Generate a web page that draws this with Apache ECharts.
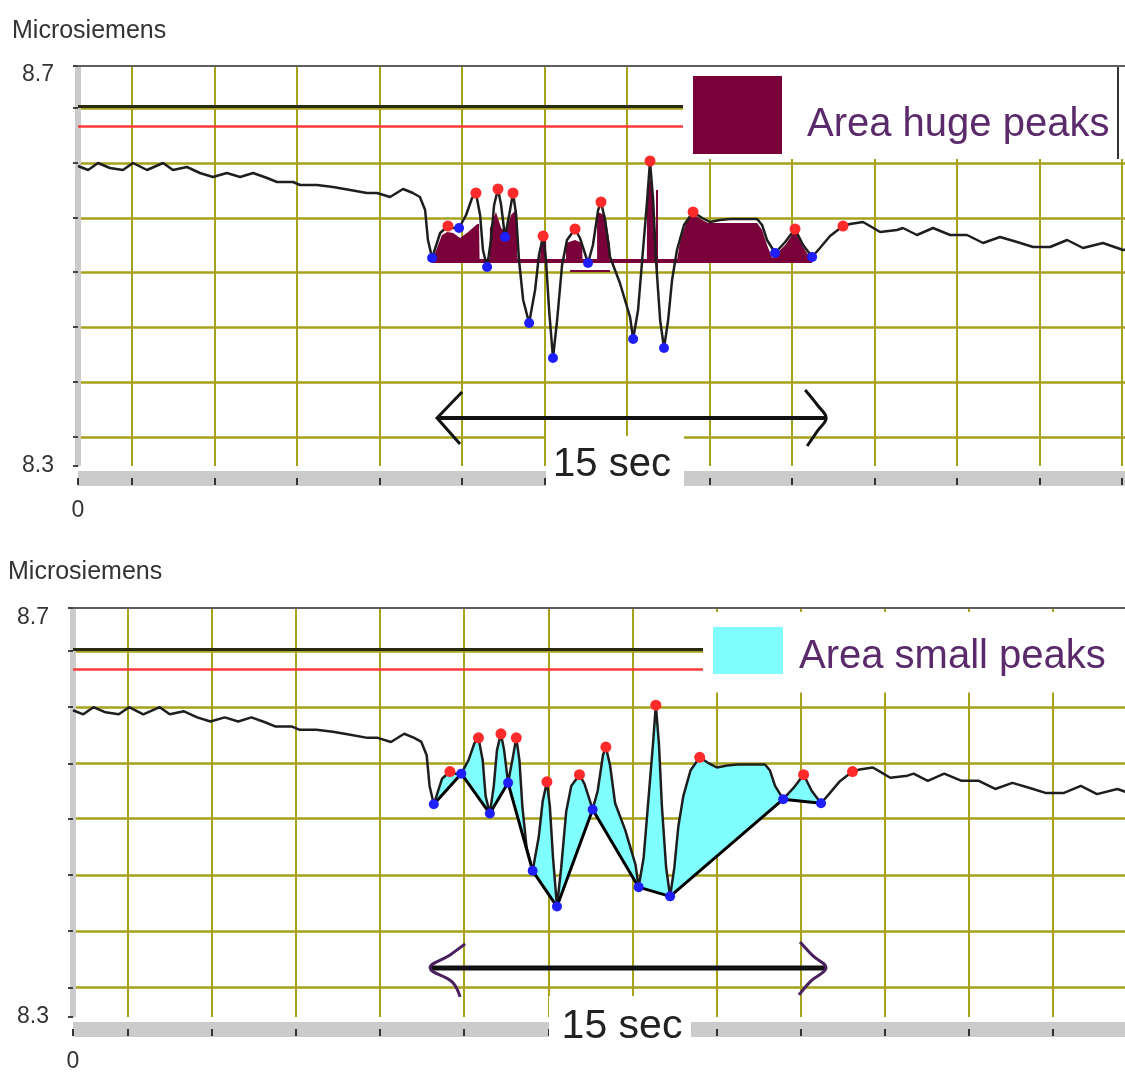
<!DOCTYPE html>
<html>
<head>
<meta charset="utf-8">
<title>Microsiemens - huge and small peaks</title>
<script src="https://cdn.jsdelivr.net/npm/echarts@6/dist/echarts.min.js"></script>
<style>
  html, body { margin: 0; padding: 0; background: #fff; }
  #chart { width: 1125px; height: 1073px; }
</style>
</head>
<body>
<div id="chart"></div>
<script>
// skin conductance trace, [seconds, microsiemens]
const trace = [
  [0,8.600],[0.39,8.596],[0.77,8.603],[1.23,8.598],[1.73,8.596],[2.12,8.603],[2.66,8.596],[3.28,8.603],
  [3.66,8.596],[4.20,8.599],[4.70,8.593],[5.20,8.589],[5.74,8.593],[6.25,8.589],[6.75,8.593],[7.29,8.588],
  [7.67,8.584],[8.29,8.584],[8.56,8.581],[9.21,8.581],[9.83,8.579],[10.49,8.576],[11.14,8.573],[11.53,8.573],
  [12.03,8.569],[12.53,8.577],[12.91,8.573],[13.18,8.569],[13.38,8.556],[13.49,8.526],[13.65,8.508],
  [13.96,8.533],[14.26,8.540],[14.46,8.538],[14.69,8.538],[14.96,8.551],[15.19,8.568],[15.34,8.573],
  [15.50,8.551],[15.61,8.516],[15.77,8.499],[15.92,8.526],[16.04,8.561],[16.19,8.577],[16.31,8.561],
  [16.46,8.529],[16.62,8.551],[16.77,8.573],[16.89,8.551],[17.00,8.506],[17.16,8.466],[17.39,8.443],
  [17.62,8.476],[17.77,8.511],[17.93,8.530],[18.04,8.506],[18.16,8.456],[18.31,8.408],[18.47,8.446],
  [18.66,8.501],[18.85,8.526],[19.16,8.537],[19.35,8.528],[19.66,8.503],[19.85,8.521],[20.05,8.556],
  [20.16,8.564],[20.32,8.546],[20.51,8.509],[20.89,8.483],[21.28,8.449],[21.40,8.427],[21.59,8.456],
  [21.78,8.516],[21.94,8.566],[22.05,8.605],[22.17,8.566],[22.28,8.506],[22.44,8.446],[22.59,8.418],
  [22.75,8.446],[22.90,8.486],[23.09,8.516],[23.36,8.541],[23.71,8.554],[24.06,8.548],[24.36,8.544],
  [24.75,8.546],[25.14,8.547],[26.18,8.547],[26.37,8.541],[26.56,8.526],[26.87,8.513],[27.26,8.524],
  [27.64,8.537],[27.95,8.521],[28.30,8.509],[28.60,8.518],[28.99,8.530],[29.49,8.540],[29.76,8.542],
  [30.26,8.544],[30.53,8.540],[30.92,8.534],[31.57,8.536],[31.80,8.538],[32.34,8.531],[32.96,8.538],
  [33.62,8.531],[34.27,8.531],[34.89,8.523],[35.54,8.529],[36.20,8.524],[36.82,8.519],[37.47,8.519],
  [38.13,8.526],[38.74,8.518],[39.51,8.523],[40.29,8.516],[40.94,8.518],[41.50,8.517]
];
// detected maxima (red) and minima (blue)
const peaks = [
  [14.26,8.540],[15.34,8.573],[16.19,8.577],[16.77,8.573],[17.93,8.530],[19.16,8.537],
  [20.16,8.564],[22.05,8.605],[23.71,8.554],[27.64,8.537],[29.49,8.540]
];
const valleys = [
  [13.65,8.508],[14.69,8.538],[15.77,8.499],[16.46,8.529],[17.39,8.443],[18.31,8.408],
  [19.66,8.503],[21.40,8.427],[22.59,8.418],[26.87,8.513],[28.30,8.509]
];
// outline of the "huge peaks" area, above its base level
const hugeFill = [
  [13.65,8.505],[14.03,8.531],[14.23,8.534],[14.46,8.533],[14.73,8.528],[15.04,8.534],[15.39,8.542],
  [15.46,8.542],[15.48,8.505],[15.86,8.505],[15.88,8.538],[16.11,8.554],[16.31,8.538],[16.50,8.534],
  [16.69,8.551],[16.88,8.556],[16.92,8.556],[16.94,8.505],[17.81,8.505],[17.85,8.528],[18.04,8.528],
  [18.06,8.505],[18.81,8.505],[18.81,8.523],[19.16,8.526],[19.43,8.523],[19.45,8.505],[20.01,8.505],
  [20.01,8.554],[20.32,8.551],[20.51,8.521],[20.53,8.505],[21.93,8.505],[21.93,8.570],[22.05,8.590],
  [22.17,8.570],[22.28,8.525],[22.32,8.505],[23.09,8.505],[23.21,8.525],[23.44,8.543],[23.71,8.552],
  [24.06,8.546],[24.29,8.543],[26.18,8.543],[26.37,8.536],[26.56,8.521],[26.76,8.508],[27.26,8.521],
  [27.64,8.535],[27.95,8.519],[28.30,8.505]
];
// stray strokes of the same colour left by the original plot
const hugeStrokes = [
  [[18.97,8.495],[20.51,8.495]],
  [[22.32,8.576],[22.32,8.493]]
];
const hugeBase = 8.505;
const thresholdHigh = 8.659;
const thresholdLow = 8.638;

// axes
const xGrid = [2.08, 5.26, 8.44, 11.62, 14.80, 17.98, 21.16, 24.34, 27.52, 30.70, 33.88, 37.06, 40.24];
const xTicks = [0].concat(xGrid);
const xLabels = [0];
const yGrid = [8.329, 8.384, 8.439, 8.494, 8.548, 8.603, 8.658];
const yTicks = [8.3].concat(yGrid, [8.7]);
const yLabels = [8.3, 8.691];
const arrowSpan1 = [13.84, 28.84];
const arrowSpan2 = [13.51, 28.49];
const arrowLevel = 8.348;

const FONT = "'Liberation Sans', Arial, sans-serif";
const OLIVE = '#a6a21c';
const MAROON = '#7a0039';
const CYAN = '#80ffff';
const LEGEND_TEXT = '#5b2a6b';

const chart = echarts.init(document.getElementById('chart'));

// both panels show the same recording; the second one is drawn a little wider
const panels = [
  { left: 78, top: 66, width: 1047, height: 400, xMax: 40.36 },
  { left: 73, top: 608, width: 1052, height: 411, xMax: 39.80 }
];

const xAxes = [];
const yAxes = [];
panels.forEach((p, i) => {
  xAxes.push({
    gridIndex: i, type: 'value', position: 'bottom', min: 0, max: p.xMax, offset: 12,
    axisLine: { show: true, lineStyle: { color: '#cbcbcb', width: 15, cap: 'butt' } },
    axisTick: { show: true, customValues: xTicks, length: 7, lineStyle: { color: '#333', width: 2 } },
    axisLabel: { customValues: xLabels, margin: 21, fontSize: 23, color: '#333', fontFamily: FONT },
    splitLine: { show: true, showMinLine: false, lineStyle: { color: OLIVE, width: 2 } }
  });
  xAxes.push({
    gridIndex: i, type: 'value', position: 'top', min: 0, max: p.xMax,
    axisLine: { show: true, lineStyle: { color: '#5e5e5e', width: 2 } },
    axisTick: { show: false }, axisLabel: { show: false }, splitLine: { show: false }
  });
  yAxes.push({
    gridIndex: i, type: 'value', position: 'left', min: 8.3, max: 8.7,
    axisLine: { show: true, lineStyle: { color: '#5e5e5e', width: 1.5 } },
    axisTick: { show: false, customValues: yGrid },
    axisLabel: { show: false },
    splitLine: { show: true, lineStyle: { color: OLIVE, width: 2.5 } }
  });
  yAxes.push({
    gridIndex: i, type: 'value', position: 'left', min: 8.3, max: 8.7, offset: 4,
    axisLine: { show: true, lineStyle: { color: '#cbcbcb', width: 6, cap: 'butt' } },
    axisTick: { show: true, customValues: yTicks, length: 5, lineStyle: { color: '#444', width: 2 } },
    axisLabel: {
      customValues: yLabels, margin: 20, fontSize: 23, color: '#333', fontFamily: FONT,
      formatter: v => v.toFixed(1)
    },
    splitLine: { show: false }
  });
});

const thresholdLines = {
  silent: true, symbol: 'none', animation: false, label: { show: false },
  data: [
    { yAxis: thresholdHigh, lineStyle: { color: '#2a2a12', width: 3, type: 'solid' } },
    { yAxis: thresholdLow, lineStyle: { color: '#ff3b3b', width: 2.5, type: 'solid' } }
  ]
};

const traceSeries = (xi, yi) => ({
  type: 'line', xAxisIndex: xi, yAxisIndex: yi, data: trace, showSymbol: false, z: 3,
  lineStyle: { color: '#1e1e1e', width: 2.5 }, markLine: thresholdLines
});
const dotSeries = (xi, yi, data, color, size) => ({
  type: 'scatter', xAxisIndex: xi, yAxisIndex: yi, data: data, z: 6,
  symbolSize: size, itemStyle: { color: color, opacity: 1 }
});

const series = [
  // panel 1
  {
    name: 'Area huge peaks', type: 'custom', xAxisIndex: 0, yAxisIndex: 0, z: 2,
    itemStyle: { color: MAROON }, data: [[20, 8.5]],
    renderItem: (params, api) => {
      const pts = hugeFill.map(p => api.coord(p));
      const b0 = api.coord([valleys[0][0], hugeBase]);
      const b1 = api.coord([valleys[valleys.length - 1][0], hugeBase]);
      const strokes = hugeStrokes.map(s => {
        const p0 = api.coord(s[0]), p1 = api.coord(s[1]);
        return { type: 'line', shape: { x1: p0[0], y1: p0[1], x2: p1[0], y2: p1[1] },
          style: { stroke: MAROON, lineWidth: 2 } };
      });
      return {
        type: 'group', children: [
          { type: 'polygon', shape: { points: pts }, style: { fill: MAROON } },
          { type: 'line', shape: { x1: b0[0], y1: b0[1], x2: b1[0], y2: b1[1] },
            style: { stroke: MAROON, lineWidth: 4 } }
        ].concat(strokes)
      };
    }
  },
  traceSeries(0, 0),
  dotSeries(0, 0, peaks, '#ff2b2b', 11),
  dotSeries(0, 0, valleys, '#1e1eff', 10),
  // panel 2
  {
    name: 'Area small peaks', type: 'custom', xAxisIndex: 2, yAxisIndex: 2, z: 2,
    itemStyle: { color: CYAN }, data: [[20, 8.5]],
    renderItem: (params, api) => {
      const first = valleys[0][0];
      const last = valleys[valleys.length - 1][0];
      const upper = trace.filter(p => p[0] >= first && p[0] <= last);
      const pts = upper.concat(valleys.slice().reverse()).map(p => api.coord(p));
      return { type: 'polygon', shape: { points: pts }, style: { fill: CYAN } };
    }
  },
  traceSeries(2, 2),
  {
    type: 'line', xAxisIndex: 2, yAxisIndex: 2, data: valleys, showSymbol: false, z: 4,
    lineStyle: { color: '#000', width: 3 }
  },
  dotSeries(2, 2, peaks, '#ff2b2b', 11),
  dotSeries(2, 2, valleys, '#1e1eff', 10)
];

const titleStyle = { fontSize: 25, fontWeight: 'normal', color: '#333', fontFamily: FONT };
const legendText = (size, drop) => ({
  rich: { t: { fontSize: size, color: LEGEND_TEXT, fontFamily: FONT, padding: [drop, 0, 0, 0] } }
});

chart.setOption({
  animation: false,
  backgroundColor: '#fff',
  title: [
    { text: 'Microsiemens', left: 12, top: 19, padding: 0, textStyle: titleStyle },
    { text: 'Microsiemens', left: 8, top: 560, padding: 0, textStyle: titleStyle }
  ],
  legend: [
    {
      data: [{ name: 'Area huge peaks', icon: 'rect', itemStyle: { color: MAROON } }],
      left: 683, top: 67, itemWidth: 89, itemHeight: 78, padding: [9, 40, 5, 10],
      backgroundColor: '#fff', selectedMode: false, z: 20,
      formatter: name => '{t|' + name + '}',
      textStyle: Object.assign({ padding: [0, 0, 0, 20] }, legendText(40, 20))
    },
    {
      data: [{ name: 'Area small peaks', icon: 'rect', itemStyle: { color: CYAN } }],
      left: 703, top: 612, itemWidth: 70, itemHeight: 47, padding: [15, 40, 16, 10],
      backgroundColor: '#fff', selectedMode: false, z: 20,
      formatter: name => '{t|' + name + '}',
      textStyle: Object.assign({ padding: [0, 0, 0, 11] }, legendText(40, 12))
    }
  ],
  grid: panels.map(p => ({ left: p.left, top: p.top, width: p.width, height: p.height })),
  xAxis: xAxes,
  yAxis: yAxes,
  series: series
});

// "15 sec" arrows and labels, anchored to the data scale
const at = (s, pt) => chart.convertToPixel({ seriesIndex: s }, pt);
const a1 = at(1, [arrowSpan1[0], arrowLevel]);
const b1 = at(1, [arrowSpan1[1], arrowLevel]);
const a2 = at(5, [arrowSpan2[0], arrowLevel]);
const b2 = at(5, [arrowSpan2[1], arrowLevel]);
const PURPLE = '#4a1f5e';

chart.setOption({
  graphic: [
    // right edge of the first legend box
    { type: 'line', z: 30, shape: { x1: 1118, y1: 67, x2: 1118, y2: 159 },
      style: { stroke: '#333', lineWidth: 2 } },

    { type: 'line', z: 50, shape: { x1: a1[0], y1: a1[1], x2: b1[0], y2: b1[1] },
      style: { stroke: '#111', lineWidth: 4 } },
    { type: 'polyline', z: 50,
      shape: { points: [[a1[0] + 25, a1[1] - 26], [a1[0], a1[1]], [a1[0] + 23, a1[1] + 26]] },
      style: { stroke: '#111', lineWidth: 3, fill: null } },
    { type: 'polyline', z: 50,
      shape: { smooth: 0.4, points: [[b1[0] - 21, b1[1] - 28], [b1[0] - 8, b1[1] - 12], [b1[0], b1[1]],
        [b1[0] - 8, b1[1] + 12], [b1[0] - 19, b1[1] + 28]] },
      style: { stroke: '#111', lineWidth: 3, fill: null } },
    { type: 'rect', z: 50, shape: { x: 546, y: 436, width: 138, height: 54 }, style: { fill: '#fff' } },
    { type: 'text', z: 51, style: { text: '15 sec', x: 612, y: 465, font: '40px ' + FONT,
      fill: '#222', align: 'center', verticalAlign: 'middle', textAlign: 'center', textVerticalAlign: 'middle' } },

    { type: 'line', z: 50, shape: { x1: a2[0], y1: a2[1], x2: b2[0], y2: b2[1] },
      style: { stroke: '#111', lineWidth: 5 } },
    { type: 'polyline', z: 51,
      shape: { smooth: 0.4, points: [[a2[0] + 35, a2[1] - 24], [a2[0] + 20, a2[1] - 13], [a2[0], a2[1]],
        [a2[0] + 22, a2[1] + 14], [a2[0] + 30, a2[1] + 29]] },
      style: { stroke: PURPLE, lineWidth: 3, fill: null } },
    { type: 'polyline', z: 51,
      shape: { smooth: 0.4, points: [[b2[0] - 26, b2[1] - 26], [b2[0] - 13, b2[1] - 12], [b2[0], b2[1]],
        [b2[0] - 15, b2[1] + 13], [b2[0] - 27, b2[1] + 27]] },
      style: { stroke: PURPLE, lineWidth: 3, fill: null } },
    { type: 'rect', z: 50, shape: { x: 549, y: 996, width: 142, height: 54 }, style: { fill: '#fff' } },
    { type: 'text', z: 51, style: { text: '15 sec', x: 622, y: 1027, font: '41px ' + FONT,
      fill: '#222', align: 'center', verticalAlign: 'middle', textAlign: 'center', textVerticalAlign: 'middle' } }
  ]
});
</script>
</body>
</html>
